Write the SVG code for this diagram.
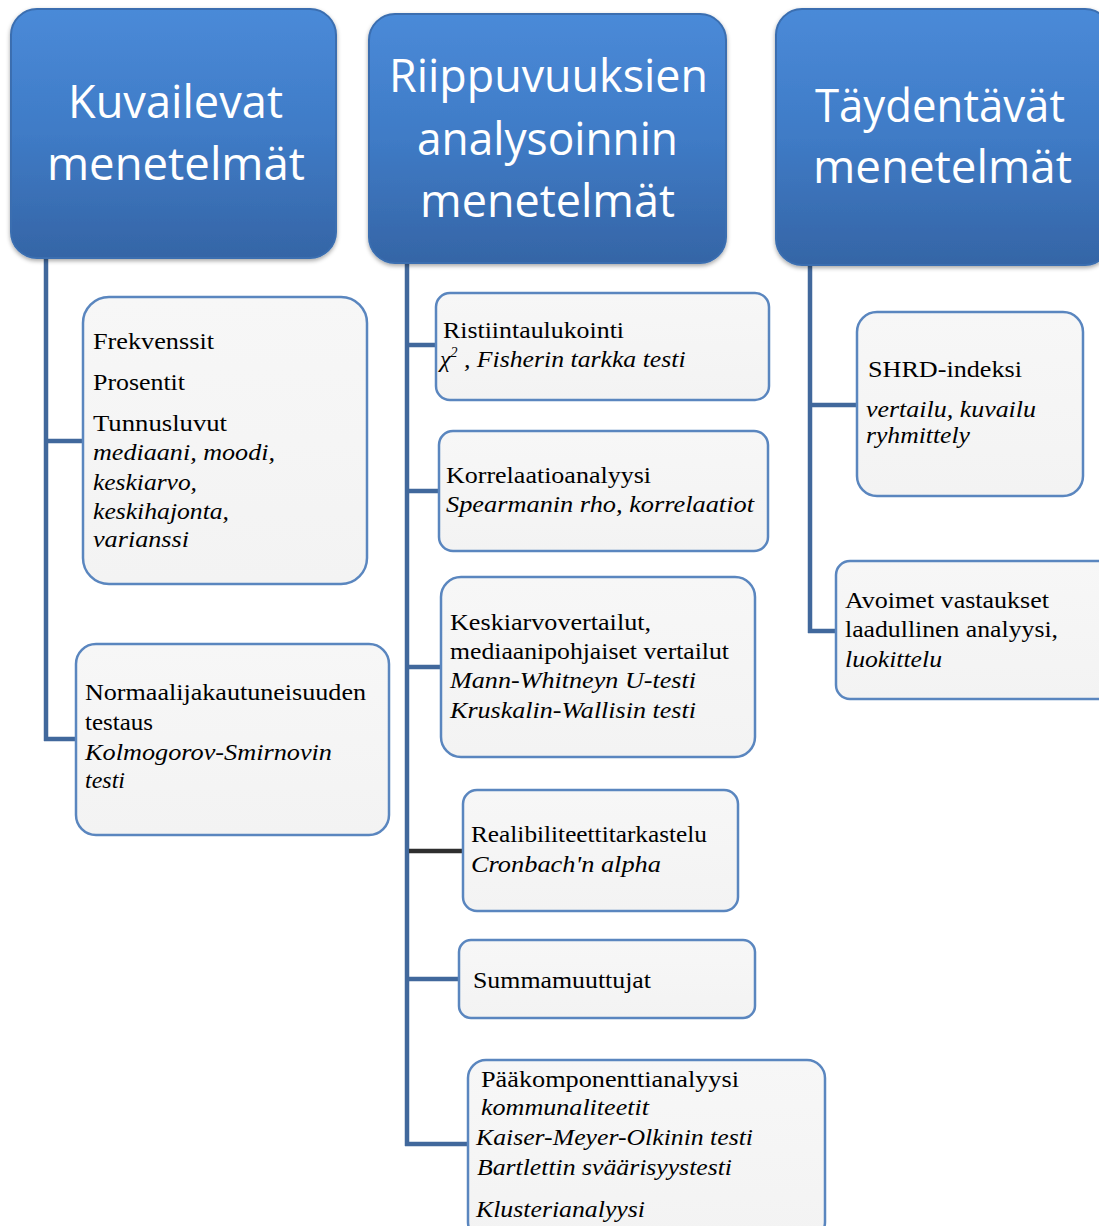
<svg xmlns="http://www.w3.org/2000/svg" width="1099" height="1226" viewBox="0 0 1099 1226">
<defs>
<linearGradient id="hg" x1="0" y1="0" x2="0" y2="1">
<stop offset="0" stop-color="#4a8ad8"/>
<stop offset="0.5" stop-color="#3f7bc6"/>
<stop offset="1" stop-color="#3565a6"/>
</linearGradient>
<linearGradient id="cg" x1="0" y1="0" x2="0" y2="1">
<stop offset="0" stop-color="#f7f7f7"/>
<stop offset="1" stop-color="#f3f3f3"/>
</linearGradient>
<filter id="sh" x="-10%" y="-10%" width="120%" height="125%">
<feDropShadow dx="0" dy="2" stdDeviation="2" flood-color="#000" flood-opacity="0.35"/>
</filter>
</defs>
<style>
.hdr{fill:url(#hg);stroke:#3a6eb0;stroke-width:2;filter:url(#sh)}
.ht{font-family:"Open Sans","Noto Sans",sans-serif;font-size:46px;fill:#ffffff;text-anchor:start}
.box{fill:url(#cg);stroke:#5a86bf;stroke-width:2.5}
.t{font-family:"Liberation Serif","Times New Roman",serif;font-size:24px;fill:#000}
.i{font-style:italic}
.c{stroke:#41689c;stroke-width:4.5;fill:none}
.cd{stroke:#2e2e2e;stroke-width:4.5;fill:none}
</style>

<g id="connectors">
<path class="c" d="M46,258 V741 M44,441 H84 M44,739 H77"/>
<path class="c" d="M407,263 V1146 M405,345 H437 M405,491 H440 M405,667 H442 M405,979 H459 M405,1144 H468"/>
<path class="cd" d="M409,851 H464"/>
<path class="c" d="M810,265 V633 M808,405 H858 M808,631 H837"/>
</g>

<g id="h1">
<rect class="hdr" x="11" y="9" width="325" height="249" rx="26"/>
<text class="ht" x="68" y="118" textLength="215" lengthAdjust="spacingAndGlyphs">Kuvailevat</text>
<text class="ht" x="47" y="180" textLength="258" lengthAdjust="spacingAndGlyphs">menetelmät</text>
</g>
<g id="h2">
<rect class="hdr" x="369" y="14" width="357" height="249" rx="26"/>
<text class="ht" x="389" y="92" textLength="319" lengthAdjust="spacingAndGlyphs">Riippuvuuksien</text>
<text class="ht" x="417" y="155" textLength="261" lengthAdjust="spacingAndGlyphs">analysoinnin</text>
<text class="ht" x="420" y="217" textLength="255" lengthAdjust="spacingAndGlyphs">menetelmät</text>
</g>
<g id="h3">
<rect class="hdr" x="776" y="9" width="335" height="256" rx="26"/>
<text class="ht" x="815" y="122" textLength="250" lengthAdjust="spacingAndGlyphs">Täydentävät</text>
<text class="ht" x="813" y="183" textLength="259" lengthAdjust="spacingAndGlyphs">menetelmät</text>
</g>

<g id="a">
<rect class="box" x="83" y="297" width="284" height="287" rx="26"/>
<text class="t" x="93" y="349" font-size="26" textLength="121" lengthAdjust="spacingAndGlyphs">Frekvenssit</text>
<text class="t" x="93" y="390" font-size="26" textLength="92" lengthAdjust="spacingAndGlyphs">Prosentit</text>
<text class="t" x="93" y="431" font-size="26" textLength="134" lengthAdjust="spacingAndGlyphs">Tunnusluvut</text>
<text class="t i" x="93" y="460" textLength="182" lengthAdjust="spacingAndGlyphs">mediaani, moodi,</text>
<text class="t i" x="93" y="490" textLength="104" lengthAdjust="spacingAndGlyphs">keskiarvo,</text>
<text class="t i" x="93" y="519" textLength="136" lengthAdjust="spacingAndGlyphs">keskihajonta,</text>
<text class="t i" x="93" y="547" textLength="96" lengthAdjust="spacingAndGlyphs">varianssi</text>
</g>
<g id="b">
<rect class="box" x="76" y="644" width="313" height="191" rx="20"/>
<text class="t" x="85" y="700" textLength="281" lengthAdjust="spacingAndGlyphs">Normaalijakautuneisuuden</text>
<text class="t" x="85" y="730" textLength="68" lengthAdjust="spacingAndGlyphs">testaus</text>
<text class="t i" x="85" y="760" textLength="247" lengthAdjust="spacingAndGlyphs">Kolmogorov-Smirnovin</text>
<text class="t i" x="85" y="788" textLength="40" lengthAdjust="spacingAndGlyphs">testi</text>
</g>

<g id="c">
<rect class="box" x="436" y="293" width="333" height="107" rx="14"/>
<text class="t" x="443" y="338" textLength="181" lengthAdjust="spacingAndGlyphs">Ristiintaulukointi</text>
<text class="t i" x="440" y="367">χ<tspan font-size="14" dy="-10">2</tspan><tspan dy="10" textLength="228" lengthAdjust="spacingAndGlyphs"> , Fisherin tarkka testi</tspan></text>
</g>
<g id="d">
<rect class="box" x="439" y="431" width="329" height="120" rx="14"/>
<text class="t" x="446" y="483" textLength="205" lengthAdjust="spacingAndGlyphs">Korrelaatioanalyysi</text>
<text class="t i" x="446" y="512" textLength="308" lengthAdjust="spacingAndGlyphs">Spearmanin rho, korrelaatiot</text>
</g>
<g id="e">
<rect class="box" x="441" y="577" width="314" height="180" rx="20"/>
<text class="t" x="450" y="630" textLength="201" lengthAdjust="spacingAndGlyphs">Keskiarvovertailut,</text>
<text class="t" x="450" y="659" textLength="279" lengthAdjust="spacingAndGlyphs">mediaanipohjaiset vertailut</text>
<text class="t i" x="450" y="688" textLength="246" lengthAdjust="spacingAndGlyphs">Mann-Whitneyn U-testi</text>
<text class="t i" x="450" y="718" textLength="246" lengthAdjust="spacingAndGlyphs">Kruskalin-Wallisin testi</text>
</g>
<g id="f">
<rect class="box" x="463" y="790" width="275" height="121" rx="14"/>
<text class="t" x="471" y="842" textLength="236" lengthAdjust="spacingAndGlyphs">Realibiliteettitarkastelu</text>
<text class="t i" x="471" y="872" textLength="190" lengthAdjust="spacingAndGlyphs">Cronbach'n alpha</text>
</g>
<g id="g">
<rect class="box" x="459" y="940" width="296" height="78" rx="12"/>
<text class="t" x="473" y="988" textLength="178" lengthAdjust="spacingAndGlyphs">Summamuuttujat</text>
</g>
<g id="h">
<rect class="box" x="468" y="1060" width="357" height="180" rx="18"/>
<text class="t" x="481" y="1087" textLength="258" lengthAdjust="spacingAndGlyphs">Pääkomponenttianalyysi</text>
<text class="t i" x="481" y="1115" textLength="168" lengthAdjust="spacingAndGlyphs">kommunaliteetit</text>
<text class="t i" x="476" y="1145" textLength="277" lengthAdjust="spacingAndGlyphs">Kaiser-Meyer-Olkinin testi</text>
<text class="t i" x="477" y="1175" textLength="255" lengthAdjust="spacingAndGlyphs">Bartlettin sväärisyystesti</text>
<text class="t i" x="476" y="1217" textLength="169" lengthAdjust="spacingAndGlyphs">Klusterianalyysi</text>
</g>

<g id="i">
<rect class="box" x="857" y="312" width="226" height="184" rx="20"/>
<text class="t" x="868" y="377" textLength="154" lengthAdjust="spacingAndGlyphs">SHRD-indeksi</text>
<text class="t i" x="866" y="417" textLength="170" lengthAdjust="spacingAndGlyphs">vertailu, kuvailu</text>
<text class="t i" x="866" y="443" textLength="104" lengthAdjust="spacingAndGlyphs">ryhmittely</text>
</g>
<g id="j">
<rect class="box" x="836" y="561" width="280" height="138" rx="14"/>
<text class="t" x="845" y="608" textLength="204" lengthAdjust="spacingAndGlyphs">Avoimet vastaukset</text>
<text class="t" x="845" y="637" textLength="213" lengthAdjust="spacingAndGlyphs">laadullinen analyysi,</text>
<text class="t i" x="845" y="667" textLength="97" lengthAdjust="spacingAndGlyphs">luokittelu</text>
</g>
</svg>
